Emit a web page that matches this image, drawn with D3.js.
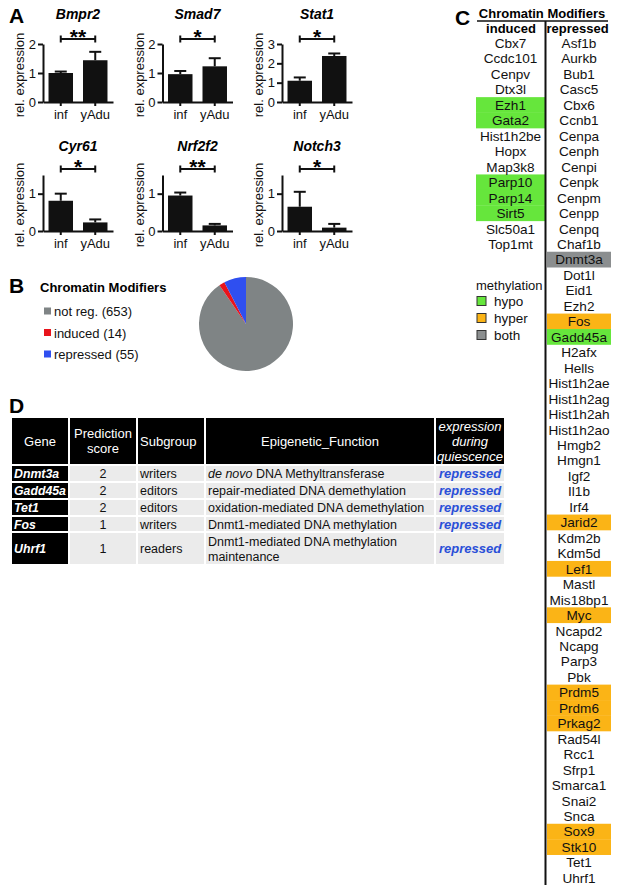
<!DOCTYPE html>
<html><head><meta charset="utf-8">
<script src="https://cdn.jsdelivr.net/npm/d3@7"></script>
<style>
body{margin:0;background:#fff}
svg{display:block;font-family:"Liberation Sans",Arial,sans-serif}
</style>
</head><body>
<svg id="c" width="617" height="888"></svg>
<script>
// ---------- Panel A data ----------
const genesA   = ['Bmpr2','Smad7','Stat1','Cyr61','Nrf2f2','Notch3'];
const groupsA  = ['inf','yAdu'];
const infMean  = [1.00, 0.96, 1.10, 0.81, 0.95, 0.65];
const infErr   = [0.05, 0.11, 0.17, 0.19, 0.08, 0.40];
const yAduMean = [1.44, 1.23, 2.38, 0.23, 0.15, 0.09];
const yAduErr  = [0.29, 0.28, 0.13, 0.08, 0.04, 0.10];
const sigA     = ['**','*','*','*','**','*'];
const yMaxA    = [2, 2, 3, 1.5, 1.5, 1.5];
const yTicksA  = [[0,1,2],[0,1,2],[0,1,2,3],[0,1],[0,1],[0,1]];

// ---------- Panel B data ----------
const pieTitle  = 'Chromatin Modifiers';
const pieCats   = ['not reg.','induced','repressed'];
const pieCounts = [653, 14, 55];
const pieColors = ['#7f8485','#e8141c','#2f4ff0'];

// ---------- Panel C data ----------
const inducedGenes = ['Cbx7','Ccdc101','Cenpv','Dtx3l','Ezh1','Gata2','Hist1h2be','Hopx','Map3k8','Parp10','Parp14','Sirt5','Slc50a1','Top1mt'];
const repressedGenes = ['Asf1b','Aurkb','Bub1','Casc5','Cbx6','Ccnb1','Cenpa','Cenph','Cenpi','Cenpk','Cenpm','Cenpp','Cenpq','Chaf1b','Dnmt3a','Dot1l','Eid1','Ezh2','Fos','Gadd45a','H2afx','Hells','Hist1h2ae','Hist1h2ag','Hist1h2ah','Hist1h2ao','Hmgb2','Hmgn1','Igf2','Il1b','Irf4','Jarid2','Kdm2b','Kdm5d','Lef1','Mastl','Mis18bp1','Myc','Ncapd2','Ncapg','Parp3','Pbk','Prdm5','Prdm6','Prkag2','Rad54l','Rcc1','Sfrp1','Smarca1','Snai2','Snca','Sox9','Stk10','Tet1','Uhrf1'];
const inducedMeth = {Ezh1:'hypo',Gata2:'hypo',Parp10:'hypo',Parp14:'hypo',Sirt5:'hypo'};
const repressedMeth = {Dnmt3a:'both',Fos:'hyper',Gadd45a:'hypo',Jarid2:'hyper',Lef1:'hyper',Myc:'hyper',Prdm5:'hyper',Prdm6:'hyper',Prkag2:'hyper',Sox9:'hyper',Stk10:'hyper'};
const methCats   = ['hypo','hyper','both'];
const methColors = ['#66e63c','#fbb416','#8b8e8f'];

// ---------- Panel D data ----------
const tHeaders    = [['Gene'],['Prediction','score'],['Subgroup'],['Epigenetic_Function'],['expression','during','quiescence']];
const tGenes      = ['Dnmt3a','Gadd45a','Tet1','Fos','Uhrf1'];
const tScores     = [2, 2, 2, 1, 1];
const tSubgroups  = ['writers','editors','editors','writers','readers'];
const tFunctions  = [['de novo DNA Methyltransferase'],['repair-mediated DNA demethylation'],['oxidation-mediated DNA demethylation'],['Dnmt1-mediated DNA methylation'],['Dnmt1-mediated DNA methylation','maintenance']];
const tExpression = ['repressed','repressed','repressed','repressed','repressed'];

const svg = d3.select('#c');
const FONT = '"Liberation Sans",Arial,sans-serif';

function panelLabel(t,x,y){
  svg.append('text').attr('x',x).attr('y',y).attr('font-size',21).attr('font-weight','bold').text(t);
}
panelLabel('A',9,23); panelLabel('B',9,293); panelLabel('C',455,25); panelLabel('D',9,413);

// ---------- Panel A ----------
genesA.forEach((gName,i)=>{
  const col=i%3, row=Math.floor(i/3);
  const ax = 43 + col*119.5;
  const y0 = row? 231:102, yT = row? 175:44;
  const y = d3.scaleLinear().domain([0,yMaxA[i]]).range([y0,yT]);
  const x = d3.scaleBand().domain(groupsA).range([ax,ax+70]).paddingInner(0.29).paddingOuter(0.16);
  const g = svg.append('g');
  const means=[infMean[i],yAduMean[i]], errs=[infErr[i],yAduErr[i]];
  g.selectAll('rect').data(groupsA).join('rect')
    .attr('x',d=>x(d)).attr('width',x.bandwidth())
    .attr('y',(d,j)=>y(means[j])).attr('height',(d,j)=>y0-y(means[j]))
    .attr('fill','#111');
  groupsA.forEach((d,j)=>{
    const cx=x(d)+x.bandwidth()/2;
    g.append('line').attr('x1',cx).attr('x2',cx).attr('y1',y(means[j])).attr('y2',y(means[j]+errs[j])).attr('stroke','#111').attr('stroke-width',2);
    g.append('line').attr('x1',cx-6).attr('x2',cx+6).attr('y1',y(means[j]+errs[j])).attr('y2',y(means[j]+errs[j])).attr('stroke','#111').attr('stroke-width',2);
  });
  const ya = g.append('g').attr('transform',`translate(${ax},0)`)
    .call(d3.axisLeft(y).tickValues(yTicksA[i]).tickFormat(d3.format('d')).tickSize(5).tickSizeOuter(0).tickPadding(2));
  const xa = g.append('g').attr('transform',`translate(0,${y0})`)
    .call(d3.axisBottom(x).tickSize(4).tickSizeOuter(0).tickPadding(4));
  [ya,xa].forEach(a=>{
    a.attr('font-family',FONT).attr('font-size',13);
    a.selectAll('path,line').attr('stroke','#111').attr('stroke-width',2);
    a.selectAll('text').attr('fill','#111');
  });
  g.append('text').attr('transform',`translate(${ax-19},${(y0+yT)/2+2}) rotate(-90)`)
    .attr('text-anchor','middle').attr('font-size',13).attr('fill','#111').text('rel. expression');
  g.append('text').attr('x',ax+35).attr('y',row?151:19).attr('text-anchor','middle')
    .attr('font-size',14).attr('font-weight','bold').attr('font-style','italic').text(gName);
  const bx1=x('inf')+x.bandwidth()/2, bx2=x('yAdu')+x.bandwidth()/2, by=row?169:39;
  g.append('path').attr('d',`M${bx1},${by-3.5}V${by+3.5}M${bx1},${by}H${bx2}M${bx2},${by-3.5}V${by+3.5}`)
    .attr('stroke','#111').attr('stroke-width',2).attr('fill','none');
  g.append('text').attr('x',(bx1+bx2)/2).attr('y',by+4.5).attr('text-anchor','middle')
    .attr('font-size',21).attr('font-weight','bold').text(sigA[i]);
});

// ---------- Panel B ----------
svg.append('text').attr('x',40).attr('y',292).attr('font-size',13).attr('font-weight','bold').text(pieTitle);
const legB = svg.append('g');
pieCats.forEach((c,k)=>{
  const yy = 311 + k*21.5;
  legB.append('rect').attr('x',44).attr('y',yy-3.5).attr('width',7).attr('height',7).attr('fill',pieColors[k]);
  legB.append('text').attr('x',54).attr('y',yy+5).attr('font-size',13).attr('fill','#111').text(`${c} (${pieCounts[k]})`);
});
const pie = d3.pie().sort(null)(pieCounts);
const arc = d3.arc().innerRadius(0).outerRadius(47);
svg.append('g').attr('transform','translate(246,324)')
  .selectAll('path').data(pie).join('path').attr('d',arc).attr('fill',(d,k)=>pieColors[k]);

// ---------- Panel C ----------
const gc = svg.append('g');
const rowY = d3.scaleBand().domain(d3.range(repressedGenes.length)).range([35.3,885.6]);
const methColor = d3.scaleOrdinal().domain(methCats).range(methColors);
const colInd = {x0:476,x1:545,cx:510.5}, colRep={x0:547,x1:611,cx:579};
gc.append('text').attr('x',542).attr('y',18).attr('text-anchor','middle').attr('font-size',13).attr('font-weight','bold').text('Chromatin Modifiers');
gc.append('line').attr('x1',477).attr('x2',608).attr('y1',21).attr('y2',21).attr('stroke','#111').attr('stroke-width',1.5);
gc.append('text').attr('x',511).attr('y',32.5).attr('text-anchor','middle').attr('font-size',13).attr('font-weight','bold').text('induced');
gc.append('text').attr('x',577.5).attr('y',32.5).attr('text-anchor','middle').attr('font-size',13).attr('font-weight','bold').text('repressed');
function drawCol(list,meth,c){
  list.forEach((n,k)=>{
    if(meth[n]) gc.append('rect').attr('x',c.x0).attr('width',c.x1-c.x0).attr('y',rowY(k)).attr('height',rowY.bandwidth()+0.3).attr('fill',methColor(meth[n]));
  });
  list.forEach((n,k)=>{
    gc.append('text').attr('x',c.cx).attr('y',rowY(k)+rowY.bandwidth()/2+5).attr('text-anchor','middle')
      .attr('font-size',13.6).attr('fill','#111').text(n);
  });
}
drawCol(inducedGenes,inducedMeth,colInd);
drawCol(repressedGenes,repressedMeth,colRep);
gc.append('line').attr('x1',545.5).attr('x2',545.5).attr('y1',21).attr('y2',885).attr('stroke','#111').attr('stroke-width',2);
gc.append('text').attr('x',476).attr('y',290).attr('font-size',13).attr('fill','#111').text('methylation');
methCats.forEach((m,k)=>{
  const yy = 301 + k*17;
  gc.append('rect').attr('x',477).attr('y',yy-4.5).attr('width',9).attr('height',9).attr('fill',methColors[k]).attr('stroke','#333').attr('stroke-width',1);
  gc.append('text').attr('x',494).attr('y',yy+5).attr('font-size',13.5).attr('fill','#111').text(m);
});

// ---------- Panel D ----------
const gd = svg.append('g');
const colX  = [12,70,138,206,436];
const colX2 = [68,136,204,434,504];
const rowTop = [418,466,483,500,517,533];
const rowBot = [464,481,498,515,531,564];
const align = ['middle','middle','start','middle','middle'];
tHeaders.forEach((h,c)=>{
  gd.append('rect').attr('x',colX[c]).attr('y',rowTop[0]).attr('width',colX2[c]-colX[c]).attr('height',rowBot[0]-rowTop[0]).attr('fill','#000');
  const cx = align[c]==='start'? colX[c]+2 : (colX[c]+colX2[c])/2;
  const cy = (rowTop[0]+rowBot[0])/2;
  h.forEach((line,l)=>{
    gd.append('text').attr('x',cx).attr('y',cy+4.5+(l-(h.length-1)/2)*15)
      .attr('text-anchor',align[c]).attr('font-size',13).attr('fill','#fff')
      .attr('font-style',c===4?'italic':null).text(line);
  });
});
tGenes.forEach((gn,r)=>{
  const y0=rowTop[r+1], y1=rowBot[r+1], cy=(y0+y1)/2;
  for(let c=0;c<5;c++){
    gd.append('rect').attr('x',colX[c]).attr('y',y0).attr('width',colX2[c]-colX[c]).attr('height',y1-y0).attr('fill',c===0?'#000':'#ebebeb');
  }
  gd.append('text').attr('x',colX[0]+2).attr('y',cy+4.5).attr('font-size',12.3).attr('font-weight','bold').attr('font-style','italic').attr('fill','#fff').text(gn);
  gd.append('text').attr('x',(colX[1]+colX2[1])/2).attr('y',cy+4.5).attr('text-anchor','middle').attr('font-size',12.5).attr('fill','#111').text(tScores[r]);
  gd.append('text').attr('x',colX[2]+2).attr('y',cy+4.5).attr('font-size',12.5).attr('fill','#111').text(tSubgroups[r]);
  const fl = tFunctions[r];
  fl.forEach((line,l)=>{
    const t = gd.append('text').attr('x',colX[3]+2).attr('y',cy+4.5+(l-(fl.length-1)/2)*15).attr('font-size',12.5).attr('fill','#111');
    if(line.startsWith('de novo')){
      t.append('tspan').attr('font-style','italic').text('de novo');
      t.append('tspan').text(line.slice(7));
    } else t.text(line);
  });
  gd.append('text').attr('x',(colX[4]+colX2[4])/2).attr('y',cy+4.5).attr('text-anchor','middle').attr('font-size',13)
    .attr('font-weight','bold').attr('font-style','italic').attr('fill','#2a4fd8').text(tExpression[r]);
});
</script>
</body></html>
